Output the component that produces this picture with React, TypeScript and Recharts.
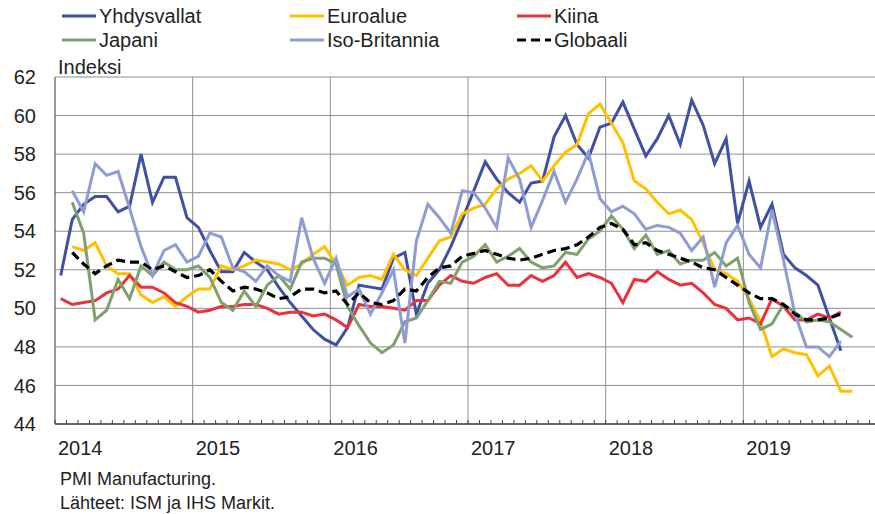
import { CartesianGrid, Line, LineChart, ReferenceLine, XAxis, YAxis } from 'recharts';

// kuukausittaiset PMI-luvut, 2014/01 alkaen (null = ei havaintoa)
const years = ['2014', '2015', '2016', '2017', '2018', '2019'];
const monthCount = 72;
const yTicks = [44, 46, 48, 50, 52, 54, 56, 58, 60, 62];

const yhdysvallat = [
  51.7, 54.6, 55.4, 55.8, 55.8, 55.0, 55.3, 58.0, 55.5, 56.8, 56.8, 54.7,
  54.2, 53.0, 51.9, 51.9, 52.9, 52.4, 52.0, 51.1, 50.3, 49.6, 48.9, 48.4,
  48.1, 49.0, 51.2, 51.1, 51.0, 52.6, 52.9, 49.7, 51.3, 52.0, 53.2, 54.6,
  56.1, 57.6, 56.7, 56.0, 55.5, 56.5, 56.6, 58.9, 60.0, 58.5, 57.8, 59.4,
  59.6, 60.7, 59.3, 57.9, 58.8, 60.0, 58.5, 60.8, 59.5, 57.5, 58.8, 54.4,
  56.6, 54.2, 55.4, 52.8, 52.1, 51.7, 51.2, 49.5, 47.8,
];
const euroalue = [
  null, 53.2, 53.0, 53.4, 52.2, 51.8, 51.8, 50.7, 50.3, 50.6, 50.1, 50.6,
  51.0, 51.0, 52.2, 52.0, 52.2, 52.5, 52.4, 52.3, 52.0, 52.3, 52.8, 53.2,
  52.3, 51.2, 51.6, 51.7, 51.5, 52.8, 52.0, 51.7, 52.6, 53.5, 53.7, 54.9,
  55.2, 55.4, 56.2, 56.7, 57.0, 57.4, 56.6, 57.4, 58.1, 58.5, 60.1, 60.6,
  59.6, 58.6, 56.6, 56.2, 55.5, 54.9, 55.1, 54.6, 53.4, 52.0, 51.8, 51.4,
  50.5, 49.3, 47.5, 47.9, 47.7, 47.6, 46.5, 47.0, 45.7, 45.7,
];
const kiina = [
  50.5, 50.2, 50.3, 50.4, 50.8, 51.0, 51.7, 51.1, 51.1, 50.8, 50.3, 50.1,
  49.8, 49.9, 50.1, 50.1, 50.2, 50.2, 50.0, 49.7, 49.8, 49.8, 49.6, 49.7,
  49.4, 49.0, 50.2, 50.1, 50.1, 50.0, 49.9, 50.4, 50.4, 51.2, 51.7, 51.4,
  51.3, 51.6, 51.8, 51.2, 51.2, 51.7, 51.4, 51.7, 52.4, 51.6, 51.8, 51.6,
  51.3, 50.3, 51.5, 51.4, 51.9, 51.5, 51.2, 51.3, 50.8, 50.2, 50.0, 49.4,
  49.5, 49.2, 50.5, 50.1, 49.4, 49.4, 49.7, 49.5, 49.8,
];
const japani = [
  null, 55.5, 53.9, 49.4, 49.9, 51.5, 50.5, 52.2, 51.7, 52.4, 52.0, 52.0,
  52.2, 51.6, 50.3, 49.9, 50.9, 50.1, 51.2, 51.7, 51.0, 52.4, 52.6, 52.6,
  52.3, 50.1, 49.1, 48.2, 47.7, 48.1, 49.3, 49.5, 50.4, 51.4, 51.3, 52.4,
  52.7, 53.3, 52.4, 52.7, 53.1, 52.4, 52.1, 52.2, 52.9, 52.8, 53.6, 54.0,
  54.8, 54.1, 53.1, 53.8, 52.8, 53.0, 52.3, 52.5, 52.5, 52.9, 52.2, 52.6,
  50.3, 48.9, 49.2, 50.2, 49.8, 49.3, 49.4, 49.3, 48.9, 48.5,
];
const isoBritannia = [
  null, 56.1, 55.0, 57.5, 56.9, 57.1, 55.2, 53.2, 51.7, 53.0, 53.3, 52.4,
  52.7, 53.9, 53.7, 52.1, 51.9, 51.4, 52.2, 51.7, 51.4, 54.7, 52.6, 51.3,
  52.6, 50.6, 51.0, 49.7, 50.8, 52.0, 48.2, 53.5, 55.4, 54.7, 53.9, 56.1,
  56.0, 55.2, 54.2, 57.8, 56.7, 54.2, 55.6, 57.1, 55.5, 56.7, 58.1, 55.7,
  55.0, 55.3, 54.9, 54.1, 54.3, 54.2, 53.9, 53.0, 53.7, 51.1, 53.4, 54.3,
  52.8, 52.1, 55.1, 52.5, 49.7, 48.0, 48.0, 47.5, 48.3,
];
const globaali = [
  null, 52.9, 52.3, 51.8, 52.2, 52.5, 52.4, 52.4, 52.0, 52.2, 51.9, 51.6,
  51.7, 52.0, 51.4, 50.9, 51.1, 51.0, 50.8, 50.5, 50.6, 51.0, 51.0, 50.8,
  50.9, 50.2, 50.8, 50.3, 50.2, 50.4, 51.0, 50.9, 51.6, 52.1, 52.2, 52.7,
  52.85, 53.0, 52.8, 52.6, 52.5, 52.6, 52.8, 53.0, 53.1, 53.3, 53.7, 54.2,
  54.4, 54.1, 53.3, 53.4, 53.0, 52.8, 52.6, 52.4, 52.1, 52.0, 51.6, 51.2,
  50.8, 50.5, 50.5, 50.2, 49.7, 49.4, 49.4, 49.5, 49.7,
];

const series = [
  { key: 'yhdysvallat', name: 'Yhdysvallat', color: '#4151a2', values: yhdysvallat },
  { key: 'euroalue', name: 'Euroalue', color: '#ffc000', values: euroalue },
  { key: 'kiina', name: 'Kiina', color: '#e8323c', values: kiina },
  { key: 'japani', name: 'Japani', color: '#7fa06f', values: japani },
  { key: 'isoBritannia', name: 'Iso-Britannia', color: '#8f9bd3', values: isoBritannia },
  { key: 'globaali', name: 'Globaali', color: '#000000', values: globaali, dash: '9 5' },
];

const data = Array.from({ length: monthCount }, (_, i) => {
  const row: Record<string, number | null> = { t: i + 0.5 };
  series.forEach((s) => {
    row[s.key] = s.values[i] ?? null;
  });
  return row;
});

const monthTicks = Array.from({ length: monthCount + 1 }, (_, i) => i);
const yearLines = [12, 24, 36, 48, 60];

const FONT = '"Liberation Sans", Arial, sans-serif';
const TEXT = '#222';
const GRID = '#8f8f8f';

const W = 900;
const H = 514;
const MARGIN = { top: 77, right: 19, bottom: 0, left: 0 };
const X_AXIS_H = 90;
const PLOT_BOTTOM = H - MARGIN.bottom - X_AXIS_H;

function MonthTick(props: any) {
  const { x, payload } = props;
  const v = payload.value as number;
  const isYear = v % 12 === 0 && v < monthCount;
  return (
    <g>
      <line x1={x} x2={x} y1={PLOT_BOTTOM} y2={PLOT_BOTTOM - 4} stroke="#444" strokeWidth={1} />
      {isYear && (
        <text x={x + 3} y={PLOT_BOTTOM + 31} fontSize={20} fill={TEXT} fontFamily={FONT}>
          {years[v / 12]}
        </text>
      )}
    </g>
  );
}

function ValueTick(props: any) {
  const { y, payload } = props;
  return (
    <text x={36} y={y} dy="0.355em" textAnchor="end" fontSize={20} fill={TEXT} fontFamily={FONT}>
      {payload.value}
    </text>
  );
}

const legendRows = [
  [series[0], series[1], series[2]],
  [series[3], series[4], series[5]],
];
const legendCols = [62, 290, 517];

function LegendOverlay() {
  return (
    <svg width={875} height={60} style={{ position: 'absolute', left: 0, top: 0 }}>
      {legendRows.map((row, r) =>
        row.map((s, c) => {
          const y = 16 + r * 24;
          const x = legendCols[c];
          return (
            <g key={s.key}>
              <line x1={x} x2={x + 34} y1={y} y2={y} stroke={s.color} strokeWidth={3} strokeDasharray={s.dash} />
              <text x={x + 37} y={y + 7} fontSize={20} fill={TEXT} fontFamily={FONT}>
                {s.name}
              </text>
            </g>
          );
        })
      )}
    </svg>
  );
}

export default function App() {
  return (
    <div
      style={{
        position: 'fixed',
        left: 0,
        top: 0,
        width: 875,
        height: 514,
        overflow: 'hidden',
        background: '#fff',
        fontFamily: FONT,
        color: TEXT,
      }}
    >
      <LegendOverlay />
      <div style={{ position: 'absolute', left: 58, top: 57, fontSize: 20, lineHeight: '20px' }}>Indeksi</div>
      <div style={{ position: 'absolute', left: 0, top: 0 }}>
        <LineChart width={W} height={H} data={data} margin={MARGIN}>
          <CartesianGrid vertical={false} stroke={GRID} strokeWidth={1} />
          {yearLines.map((x) => (
            <ReferenceLine key={x} x={x} stroke={GRID} strokeWidth={1} />
          ))}
          <XAxis
            type="number"
            dataKey="t"
            domain={[0, monthCount]}
            ticks={monthTicks}
            interval={0}
            height={X_AXIS_H}
            tickLine={false}
            axisLine={{ stroke: '#444', strokeWidth: 1.5 }}
            tick={<MonthTick />}
          />
          <YAxis
            domain={[44, 62]}
            ticks={yTicks}
            interval={0}
            width={55}
            tickLine={false}
            axisLine={{ stroke: '#555', strokeWidth: 1.2 }}
            tick={<ValueTick />}
          />
          {series.map((s) => (
            <Line
              key={s.key}
              type="linear"
              dataKey={s.key}
              name={s.name}
              stroke={s.color}
              strokeWidth={s.dash ? 3.2 : 3}
              strokeDasharray={s.dash}
              dot={false}
              activeDot={false}
              isAnimationActive={false}
            />
          ))}
        </LineChart>
      </div>
      <div style={{ position: 'absolute', left: 60, top: 470, fontSize: 18, lineHeight: '18px' }}>PMI Manufacturing.</div>
      <div style={{ position: 'absolute', left: 60, top: 494, fontSize: 18, lineHeight: '18px' }}>
        Lähteet: ISM ja IHS Markit.
      </div>
    </div>
  );
}
